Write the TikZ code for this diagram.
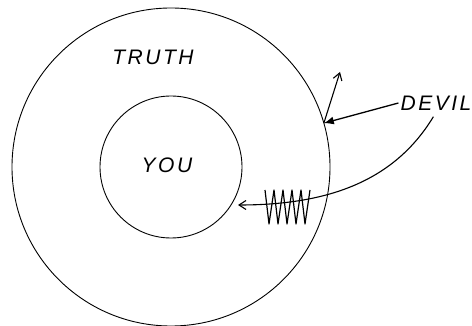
\documentclass[tikz,border=0pt]{standalone}
\usepackage{fontspec}
\newfontfamily\handfont[LetterSpace=12]{Liberation Sans}
\usetikzlibrary{arrows.meta}

\begin{document}
\begin{tikzpicture}[
  x=1pt,y=-1pt,
  font=\handfont\itshape\fontsize{21}{24}\selectfont,
  ring/.style={draw,circle,inner sep=0pt,outer sep=0pt,line width=0.9pt},
  label/.style={inner sep=2pt},
  push/.style={-{Latex[length=10pt,width=8pt]},line width=1.3pt},
  swing/.style={-{Straight Barb[length=7pt,width=9pt]},line width=1.1pt},
  coil/.style={line width=1.2pt,line join=round}
]
\useasboundingbox (0,0) rectangle (472,326);
\node[ring,minimum size=318pt] (outer) at (171,167) {};
\node[ring,minimum size=142pt] (you) at (171,167) {};
\node[label] (youtext) at (167,165) {YOU};
\node[label] (truth) at (153,57) {TRUTH};
\node[label] (devil) at (436,103) {DEVIL};
\coordinate (up) at (340,72);
\coordinate (hit) at (238,205);

\draw[push] (devil.west) -- (outer.16);
\draw[swing] (outer.16) -- (up);
\draw[swing,shorten <=5pt] (devil.south) .. controls (395,180) and (330,205) .. (hit);
\draw[coil] (265,190) \foreach \k in {0,...,4} { -- ({269+9*\k},224) -- ({274+9*\k},190) };
\end{tikzpicture}
\end{document}
